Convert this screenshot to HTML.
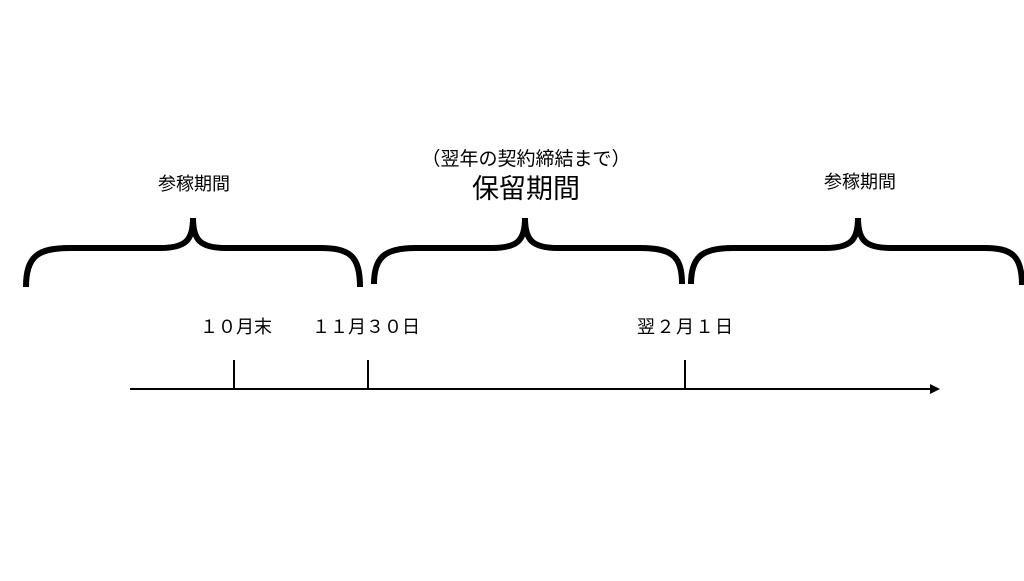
<!DOCTYPE html>
<html><head><meta charset="utf-8"><style>
body{margin:0;background:#fff;}
svg text{font-family:"Liberation Sans","Noto Sans CJK JP",sans-serif;fill:#000;}
</style></head><body>
<svg width="1024" height="576" viewBox="0 0 1024 576" xmlns="http://www.w3.org/2000/svg">
<g fill="none" stroke="#000" stroke-width="6">
<path d="M26 287 C26 256 38 248 70 248 L160 248 C186 248 193 240 193 218 C193 240 200 248 226 248 L320 248 C350 248 360 256 360 287"/>
<path d="M374 284 C374 256 386 248 416 248 L492 248 C518 248 525 240 525 218 C525 240 532 248 558 248 L640 248 C672 248 682 256 682 284"/>
<path d="M691 284 C691 256 703 248 733 248 L825 248 C851 248 858 240 858 218 C858 240 865 248 891 248 L985 248 C1012 248 1022 256 1022 285"/>
</g>
<g stroke="#000" stroke-width="2">
<line x1="130" y1="389" x2="932" y2="389"/>
<line x1="234" y1="360" x2="234" y2="389"/>
<line x1="368" y1="360" x2="368" y2="389"/>
<line x1="685" y1="360" x2="685" y2="389"/>
</g>
<polygon points="940,389 930,384 930,394" fill="#000"/>
<text x="194" y="190" font-size="18" text-anchor="middle">参稼期間</text>
<text x="860" y="188" font-size="18" text-anchor="middle">参稼期間</text>
<text x="526" y="165" font-size="19" text-anchor="middle">（翌年の契約締結まで）</text>
<text x="526" y="198" font-size="27" text-anchor="middle">保留期間</text>
<text x="200" y="333" font-size="18" textLength="72" lengthAdjust="spacing">１０月末</text>
<text x="312" y="333" font-size="18" textLength="108" lengthAdjust="spacing">１１月３０日</text>
<text x="637" y="333" font-size="18" textLength="96" lengthAdjust="spacing">翌２月１日</text>
</svg>
</body></html>
